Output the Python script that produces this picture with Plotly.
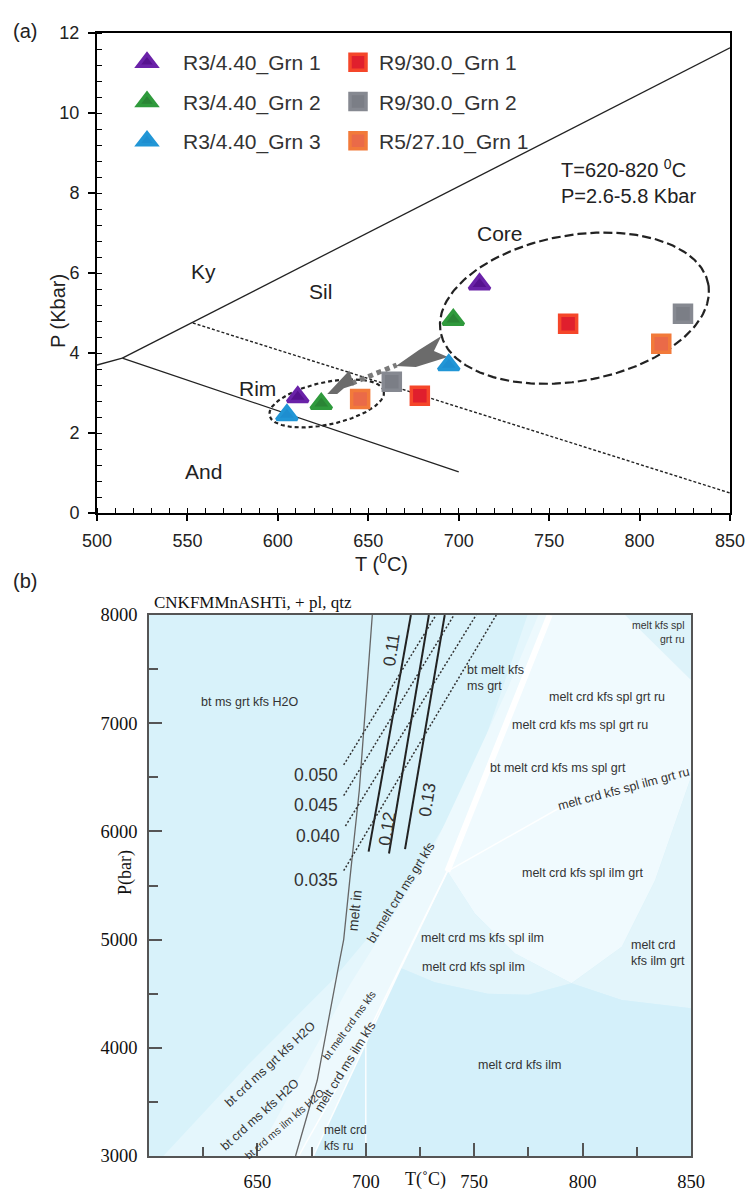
import numpy as np
import plotly.graph_objects as go

W, H = 752, 1204
SANS = "Liberation Sans, Arial, sans-serif"
SERIF = "Liberation Serif, Times New Roman, serif"

# ---------------- Panel (a) data ----------------
series_names = ["R3/4.40_Grn 1", "R3/4.40_Grn 2", "R3/4.40_Grn 3",
                "R9/30.0_Grn 1", "R9/30.0_Grn 2", "R5/27.10_Grn 1"]
series_symbol = ["triangle-up", "triangle-up", "triangle-up", "square", "square", "square"]
series_fill = ["#56128f", "#2a8535", "#1e8ed0", "#e01f2d", "#7b7e86", "#ea6a48"]
series_edge = ["#6a22a8", "#2f9a3c", "#2196d6", "#f5462a", "#868991", "#f27a3a"]
series_legend = ["legend", "legend", "legend", "legend2", "legend2", "legend2"]
rim_T = [611, 624, 605, 678.5, 663, 645.5]
rim_P = [2.90, 2.73, 2.45, 2.93, 3.28, 2.85]
core_T = [711.5, 697, 694.5, 760.5, 824, 812]
core_P = [5.72, 4.83, 3.70, 4.73, 4.98, 4.23]

# Al2SiO5 reaction lines
kyand_T, kyand_P = [500, 514], [3.70, 3.87]
kysil_T, kysil_P = [514, 850], [3.87, 11.63]
andsil_T, andsil_P = [514, 700], [3.87, 1.03]
dotline_T, dotline_P = [553, 850], [4.75, 0.50]

# gray arrows (rim -> core)
arrow1_T = [627.3, 639.5, 642.1, 636.5, 632.8]
arrow1_P = [2.975, 3.56, 3.20, 3.12, 2.975]
arrowpath_T, arrowpath_P = [640.8, 665.7], [3.24, 3.70]
arrow2_T = [665.3, 678.0, 690.4, 686.3, 694.0, 676.3]
arrow2_P = [3.675, 4.075, 4.425, 4.05, 3.90, 3.65]

# ellipse parameters (centre T, centre P, semi-axes in px, tilt deg)
core_ell = (764.0, 5.12, 136, 73, 10)
rim_ell = (627.0, 2.74, 58.4, 21.2, 12)

# ---------------- Panel (b) data ----------------
band_outer_T = [606.6, 646.1, 684.3, 715.3, 748.3, 774.6, 785.0, 737.6, 716.1, 675.8]
band_outer_P = [3000, 3850, 4618, 5359, 6458, 8000, 8000, 5631, 4737, 3000]
band_inner_T = [649.4, 692.3, 728.5, 764.7, 779.6, 785.0, 737.6, 716.1, 675.8]
band_inner_P = [3000, 4572, 5730, 7285, 8000, 8000, 5631, 4737, 3000]
upper_right_T = [785.0, 850, 850, 833.5, 818.1, 794.9, 768.7, 750.2, 737.6]
upper_right_P = [8000, 8000, 6500, 5551, 4934, 4596, 4873, 5243, 5631]
ilmgrt_T = [850, 833.5, 818.1, 794.9, 818.1, 850]
ilmgrt_P = [6500, 5551, 4934, 4596, 4442, 4365]
corner_T = [819.6, 850, 850]
corner_P = [8000, 8000, 7399]
splilm_T = [737.6, 750.2, 768.7, 794.9, 775.0, 756.3, 731.8, 716.1]
splilm_P = [5631, 5243, 4873, 4596, 4490, 4500, 4605, 4737]
lower_T = [675.8, 716.1, 731.8, 756.3, 775.0, 794.9, 818.1, 850, 850]
lower_P = [3000, 4737, 4605, 4500, 4490, 4596, 4442, 4365, 3000]

white_main_T, white_main_P = [784.8, 737.6], [8000, 5631]
white_ru_T, white_ru_P = [737.6, 790.3, 850], [5631, 6228, 6560]
white_fan1_T, white_fan1_P = [737.6, 716.1, 675.8], [5631, 4737, 3000]
white_fan2_T, white_fan2_P = [737.6, 722.0, 700.0, 669.0], [5631, 5000, 4100, 3000]
white_vert_T, white_vert_P = [700, 700], [4100, 3000]

meltin_T = [667.6, 677.6, 687.4, 689.8, 692.6, 697.0, 703.0]
meltin_P = [3000, 3700, 4750, 5000, 5550, 6380, 8000]

iso_solid_labels = ["0.11", "0.12", "0.13"]
iso_solid_T0 = [701.3, 710.7, 718.1]
iso_solid_P0 = [5813, 5796, 5836]
iso_solid_T1 = [720.8, 729.1, 736.4]
iso_solid_P1 = [8000, 8000, 8000]
iso_solid_lblT = [712.0, 710.0, 728.2]
iso_solid_lblP = [7682, 6028, 6293]

iso_dot_labels = ["0.050", "0.045", "0.040", "0.035"]
iso_dot_T0 = [689.8, 689.8, 690.6, 689.8]
iso_dot_P0 = [6614, 6330, 6050, 5637]
iso_dot_T1 = [732.4, 740.7, 750.9, 760.2]
iso_dot_P1 = [8000, 8000, 8000, 8000]

field_labels = ["bt ms grt kfs H2O", "bt melt kfs<br>ms grt", "melt crd kfs spl grt ru",
                "melt crd kfs ms spl grt ru", "bt melt crd kfs ms spl grt",
                "melt crd kfs spl ilm grt ru", "melt crd kfs spl ilm grt",
                "melt crd ms kfs spl ilm", "melt crd kfs spl ilm", "melt crd<br>kfs ilm grt",
                "melt crd kfs ilm", "melt kfs spl<br>grt ru", "melt crd<br>kfs ru",
                "bt crd ms grt kfs H2O", "bt crd ms kfs H2O", "bt crd ms ilm kfs H2O",
                "bt melt crd ms kfs", "melt crd ms ilm kfs", "bt melt crd ms grt kfs", "melt in"]
field_T = [646.6, 745.8, 811.4, 799.0, 788.6, 818.8, 799.8, 753.7, 749.9, 821.6,
           770.8, 848.0, 679.9, 656.0, 651.0, 662.3, 692.3, 690.3, 716.1, 694.7]
field_P = [7193, 7418, 7245, 6987, 6590, 6392, 5614, 5012, 4747, 4880,
           3844, 7841, 3166, 3850, 3380, 3298, 4208, 3827, 5432, 5267]
field_angle = [0, 0, 0, 0, 0, -15, 0, 0, 0, 0, 0, 0, 0, -43, -42, -41, -54, -58, -58, -84]
field_size = [12.5, 12.5, 12.5, 12.5, 12.5, 12.5, 12.5, 12.5, 12.5, 12.5,
              12.5, 10.5, 12, 12.5, 12.5, 10.5, 10.5, 12.5, 12.5, 14]
field_anchor = ["center", "left", "center", "center", "center", "center", "center",
                "center", "center", "left", "center", "right", "left",
                "center", "center", "center", "center", "center", "center", "center"]

# ---------------- helpers ----------------
SX, SY = 633 / 350, 480 / 12


def ellipse(p, n=240):
    tc, pc, a, b, ang = p
    t = np.linspace(0, 2 * np.pi, n)
    th = np.radians(ang)
    dx = a * np.cos(t) * np.cos(th) - b * np.sin(t) * np.sin(th)
    dy = a * np.cos(t) * np.sin(th) + b * np.sin(t) * np.cos(th)
    return tc + dx / SX, pc + dy / SY


fig = go.Figure()
A = dict(xaxis="x", yaxis="y")
B = dict(xaxis="x2", yaxis="y2")
NOHOV = dict(hoverinfo="skip", showlegend=False)


def line(T, P, ax, **kw):
    fig.add_trace(go.Scatter(x=T, y=P, mode="lines", **ax, **NOHOV, **kw))


def poly(T, P, ax, color):
    fig.add_trace(go.Scatter(x=T, y=P, mode="lines", fill="toself", fillcolor=color,
                             line=dict(width=0, color=color), **ax, **NOHOV))


# ---------- panel (a) ----------
for T, P in [(kyand_T, kyand_P), (kysil_T, kysil_P), (andsil_T, andsil_P)]:
    line(T, P, A, line=dict(color="#222", width=1.3))
line(dotline_T, dotline_P, A, line=dict(color="#222", width=1.4, dash="3px,2px"))

ex, ey = ellipse(core_ell)
line(ex, ey, A, line=dict(color="#222", width=2.2, dash="9px,4px"))
ex, ey = ellipse(rim_ell)
line(ex, ey, A, line=dict(color="#222", width=2.2, dash="4px,3px"))

line(arrowpath_T, arrowpath_P, A, line=dict(color="#7a7a7a", width=5, dash="5px,4px"))
poly(arrow1_T, arrow1_P, A, "#6b6b6b")
poly(arrow2_T, arrow2_P, A, "#6b6b6b")

for i, name in enumerate(series_names):
    tri = series_symbol[i] == "triangle-up"
    fig.add_trace(go.Scatter(
        x=[rim_T[i], core_T[i]], y=[rim_P[i], core_P[i]], mode="markers", name=name,
        legend=series_legend[i], legendgroup=name,
        marker=dict(symbol=series_symbol[i], size=18 if tri else 17, color=series_fill[i],
                    line=dict(color=series_edge[i], width=3.5)),
        **A))

# ---------- panel (b) ----------
poly(band_outer_T, band_outer_P, B, "#e4f6fc")
poly(band_inner_T, band_inner_P, B, "#edf9fd")
poly(upper_right_T, upper_right_P, B, "#f0fafe")
poly(ilmgrt_T, ilmgrt_P, B, "#e3f5fb")
poly(corner_T, corner_P, B, "#def3fa")
poly(splilm_T, splilm_P, B, "#e3f5fb")
poly(lower_T, lower_P, B, "#d4f0fa")

line(white_main_T, white_main_P, B, line=dict(color="white", width=6))
for T, P in [(white_ru_T, white_ru_P), (white_fan1_T, white_fan1_P),
             (white_fan2_T, white_fan2_P), (white_vert_T, white_vert_P)]:
    line(T, P, B, line=dict(color="rgba(255,255,255,0.9)", width=1.5))

line(meltin_T, meltin_P, B, line=dict(color="#666", width=1.3))
for i in range(len(iso_solid_labels)):
    line([iso_solid_T0[i], iso_solid_T1[i]], [iso_solid_P0[i], iso_solid_P1[i]], B,
         line=dict(color="#222", width=2))
for i in range(len(iso_dot_labels)):
    line([iso_dot_T0[i], iso_dot_T1[i]], [iso_dot_P0[i], iso_dot_P1[i]], B,
         line=dict(color="#333", width=1.5, dash="2px,2px"))

ann = []
# panel (a) labels
for txt, t, p in [("Ky", 559, 6.05), ("Sil", 623.3, 5.55), ("Core", 722.8, 7.0),
                  ("Rim", 589, 3.12), ("And", 559, 1.03)]:
    ann.append(dict(text=txt, x=t, y=p, xref="x", yref="y", showarrow=False,
                    font=dict(family=SANS, size=21, color="#222")))
ann.append(dict(text="T=620-820 <sup>0</sup>C<br>P=2.6-5.8 Kbar", x=755.4, y=8.3,
                xref="x", yref="y", xanchor="left", align="left", showarrow=False,
                font=dict(family=SANS, size=20, color="#222")))
ann.append(dict(text="(a)", x=11 / W, y=1 - 18 / H, xref="paper", yref="paper",
                xanchor="left", showarrow=False, font=dict(family=SANS, size=20, color="#222")))
ann.append(dict(text="P (Kbar)", x=45 / W, y=1 - 272 / H, xref="paper", yref="paper",
                textangle=-90, showarrow=False, font=dict(family=SANS, size=20, color="#222")))
ann.append(dict(text="T (<sup>0</sup>C)", x=381 / W, y=1 - 562 / H, xref="paper", yref="paper",
                showarrow=False, font=dict(family=SANS, size=20, color="#222")))

# panel (b) labels
ann.append(dict(text="(b)", x=11 / W, y=1 - 581 / H, xref="paper", yref="paper",
                xanchor="left", showarrow=False, font=dict(family=SANS, size=20, color="#222")))
ann.append(dict(text="CNKFMMnASHTi, + pl, qtz", x=152 / W, y=1 - 602 / H, xref="paper",
                yref="paper", xanchor="left", showarrow=False,
                font=dict(family=SERIF, size=17, color="#111")))
ann.append(dict(text="P(bar)", x=113 / W, y=1 - 897 / H, xref="paper", yref="paper",
                textangle=-90, showarrow=False, font=dict(family=SERIF, size=18, color="#111")))
ann.append(dict(text="T(˚C)", x=425 / W, y=1 - 1192 / H, xref="paper", yref="paper",
                showarrow=False, font=dict(family=SERIF, size=18, color="#111")))
for i, txt in enumerate(field_labels):
    ann.append(dict(text=txt, x=field_T[i], y=field_P[i], xref="x2", yref="y2",
                    showarrow=False, textangle=field_angle[i], xanchor=field_anchor[i],
                    align=field_anchor[i] if field_anchor[i] != "center" else "center",
                    font=dict(family=SANS, size=field_size[i], color="#333")))
for i, txt in enumerate(iso_dot_labels):
    ann.append(dict(text=txt, x=iso_dot_T0[i] - 1.5, y=iso_dot_P0[i] - 90, xref="x2", yref="y2",
                    xanchor="right", showarrow=False,
                    font=dict(family=SANS, size=17.5, color="#333")))
for i, txt in enumerate(iso_solid_labels):
    ann.append(dict(text=txt, x=iso_solid_lblT[i], y=iso_solid_lblP[i], xref="x2", yref="y2",
                    textangle=-81, showarrow=False,
                    font=dict(family=SANS, size=17.5, color="#333")))

top_axis = dict(showgrid=False, zeroline=False, showline=True, linecolor="black", linewidth=2,
                mirror=True, ticks="outside", tickcolor="black", tickwidth=1.5, automargin=False,
                tickfont=dict(family=SANS, size=18, color="#222"))
bot_axis = dict(showgrid=False, zeroline=False, showline=True, linecolor="#555", linewidth=1.5,
                mirror=True, ticks="inside", tickcolor="#555", tickwidth=1.5, automargin=False,
                tickfont=dict(family=SERIF, size=18.5, color="#111"))

legend_common = dict(bgcolor="rgba(0,0,0,0)", yanchor="top", xanchor="left",
                     font=dict(family=SANS, size=21, color="#333"),
                     tracegroupgap=9, traceorder="grouped")

fig.update_layout(
    width=W, height=H, margin=dict(l=0, r=0, t=0, b=0, pad=0), autosize=False,
    paper_bgcolor="white", plot_bgcolor="#d8f2fa",
    xaxis=dict(domain=[97 / W, 730 / W], range=[500, 850], anchor="y",
               tickvals=[500, 550, 600, 650, 700, 750, 800, 850], ticklen=6,
               minor=dict(dtick=10, ticks="inside", ticklen=5, tickcolor="black", tickwidth=1),
               ticklabelstandoff=4, **top_axis),
    yaxis=dict(domain=[1 - 513 / H, 1 - 33 / H], range=[0, 12], anchor="x",
               tickvals=[0, 2, 4, 6, 8, 10, 12], ticklen=7,
               minor=dict(dtick=0.4, ticks="inside", ticklen=5, tickcolor="black", tickwidth=1),
               ticklabelstandoff=5, **top_axis),
    xaxis2=dict(domain=[149 / W, 691 / W], range=[600, 850], anchor="y2",
                tickvals=[650, 700, 750, 800, 850], ticklen=13,
                minor=dict(dtick=25, ticks="inside", ticklen=9, tickcolor="#555", tickwidth=1.5),
                ticklabelstandoff=8, **bot_axis),
    yaxis2=dict(domain=[1 - 1156 / H, 1 - 615 / H], range=[3000, 8000], anchor="x2",
                tickvals=[3000, 4000, 5000, 6000, 7000, 8000], ticklen=13,
                minor=dict(dtick=500, ticks="inside", ticklen=9, tickcolor="#555", tickwidth=1.5),
                ticklabelstandoff=6, **bot_axis),
    legend=dict(x=111 / W, y=1 - 42 / H, itemwidth=62, **legend_common),
    legend2=dict(x=337 / W, y=1 - 42 / H, itemwidth=32, **legend_common),
    annotations=ann,
    showlegend=True,
)
# top panel keeps a white background
fig.add_shape(type="rect", xref="x", yref="y", x0=500, x1=850, y0=0, y1=12,
              fillcolor="white", line=dict(width=0), layer="below")

fig.write_html("out.html")
